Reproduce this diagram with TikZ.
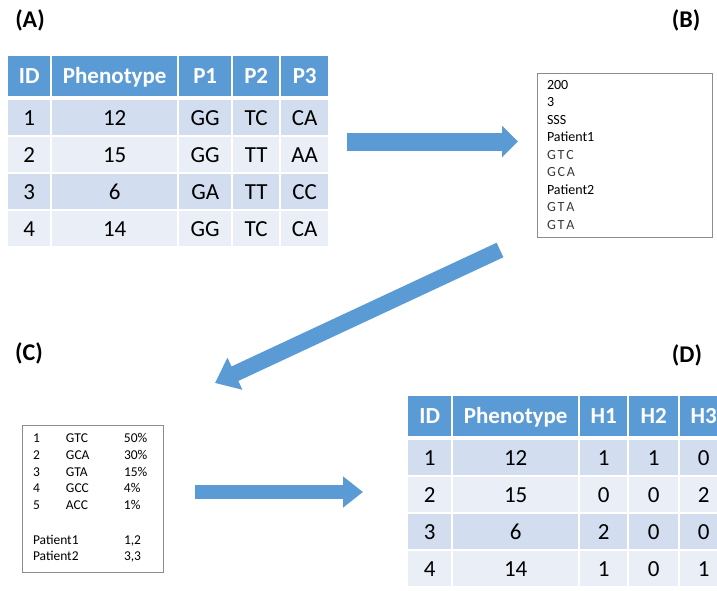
\documentclass[tikz,border=0pt]{standalone}
\usepackage{fontspec}
\setmainfont{Carlito}
\usetikzlibrary{matrix,arrows.meta}
\definecolor{hdrblue}{HTML}{5B9BD5}
\definecolor{rowdark}{HTML}{D2DEEF}
\definecolor{rowlight}{HTML}{EAEFF7}
\definecolor{framegray}{HTML}{8C8C8C}
\definecolor{basegray}{HTML}{3A3A3A}
\newcommand{\bases}[3]{{\color{basegray}#1\kern1.8pt #2\kern1.8pt #3}}

\begin{document}
\begin{tikzpicture}[x=1pt,y=-1pt,
    datatab/.style={matrix of nodes, column sep=0pt, row sep=0pt, inner sep=0pt,
        nodes={draw=white, line width=1pt, inner sep=0pt, anchor=center,
            minimum height=36pt, text height=14.6pt, text depth=0pt,
            font=\fontsize{23}{26}\selectfont},
        row 1/.style={nodes={fill=hdrblue, text=white, minimum height=41pt,
            font=\fontsize{23}{26}\selectfont\bfseries}},
        row 2/.style={nodes={fill=rowdark}},
        row 3/.style={nodes={fill=rowlight}},
        row 4/.style={nodes={fill=rowdark}},
        row 5/.style={nodes={fill=rowlight}}},
    panel/.style={font=\fontsize{24}{28}\selectfont\bfseries},
    textbox/.style={draw=framegray, line width=0.9pt, align=left},
    bigarrow/.style={draw=hdrblue, line width=#1}]
    \useasboundingbox (0,0) rectangle (717,590);
    \clip (0,0) rectangle (717,590);

    \node[panel] (labA) at (30,20) {(A)};
    \node[panel] (labB) at (686,20) {(B)};
    \node[panel] (labC) at (29,353) {(C)};
    \node[panel] (labD) at (687,355) {(D)};

    % genotype table
    \matrix[datatab, anchor=north west,
        column 1/.style={nodes={minimum width=43pt}},
        column 2/.style={nodes={minimum width=126pt}},
        column 3/.style={nodes={minimum width=53pt}},
        column 4/.style={nodes={minimum width=47pt}},
        column 5/.style={nodes={minimum width=48pt}}] (tabA) at (7,55) {
        ID & Phenotype & P1 & P2 & P3 \\[2pt]
        1 & 12 & GG & TC & CA \\
        2 & 15 & GG & TT & AA \\
        3 & 6 & GA & TT & CC \\
        4 & 14 & GG & TC & CA \\
    };

    \node[textbox, text width=155pt, inner xsep=10pt, minimum height=164pt,
        font=\fontsize{14}{17.5}\selectfont] (seqbox) at (624.5,155) {
        200\\3\\SSS\\Patient1\\
        \bases GTC\\\bases GCA\\
        Patient2\\
        \bases GTA\\\bases GTA};

    \node[textbox, minimum width=141pt, minimum height=147pt, inner sep=0pt,
        font=\fontsize{13.5}{16.7}\selectfont] (hapbox) at (92.5,498.5) {%
        \begin{tabular}{@{}p{33pt}@{}p{58pt}@{}p{28pt}@{}}
        1 & GTC & 50\% \\
        2 & GCA & 30\% \\
        3 & GTA & 15\% \\
        4 & GCC & 4\% \\
        5 & ACC & 1\% \\[18pt]
        \multicolumn{2}{@{}l}{Patient1} & 1,2 \\
        \multicolumn{2}{@{}l}{Patient2} & 3,3 \\
        \end{tabular}};

    % haplotype table
    \matrix[datatab, anchor=north west,
        column 1/.style={nodes={minimum width=44pt}},
        column 2/.style={nodes={minimum width=126pt}},
        column 3/.style={nodes={minimum width=48pt}},
        column 4/.style={nodes={minimum width=50pt}},
        column 5/.style={nodes={minimum width=48pt}}] (tabD) at (407,395) {
        ID & Phenotype & H1 & H2 & H3 \\[2pt]
        1 & 12 & 1 & 1 & 0 \\
        2 & 15 & 0 & 0 & 2 \\
        3 & 6 & 2 & 0 & 0 \\
        4 & 14 & 1 & 0 & 1 \\
    };

    \coordinate (arAfrom) at (347,141.5);
    \coordinate (arAto) at (518,141.5);
    \coordinate (arBfrom) at (500,250);
    \coordinate (arBto) at (215,383);
    \coordinate (arCfrom) at (195,492);
    \coordinate (arCto) at (363,492);
    \draw[bigarrow=18pt, -{Triangle[width=31pt,length=16pt]}] (arAfrom) -- (arAto);
    \draw[bigarrow=16pt, -{Triangle[width=34pt,length=22pt]}] (arBfrom) -- (arBto);
    \draw[bigarrow=14pt, -{Triangle[width=30pt,length=20pt]}] (arCfrom) -- (arCto);
\end{tikzpicture}
\end{document}
